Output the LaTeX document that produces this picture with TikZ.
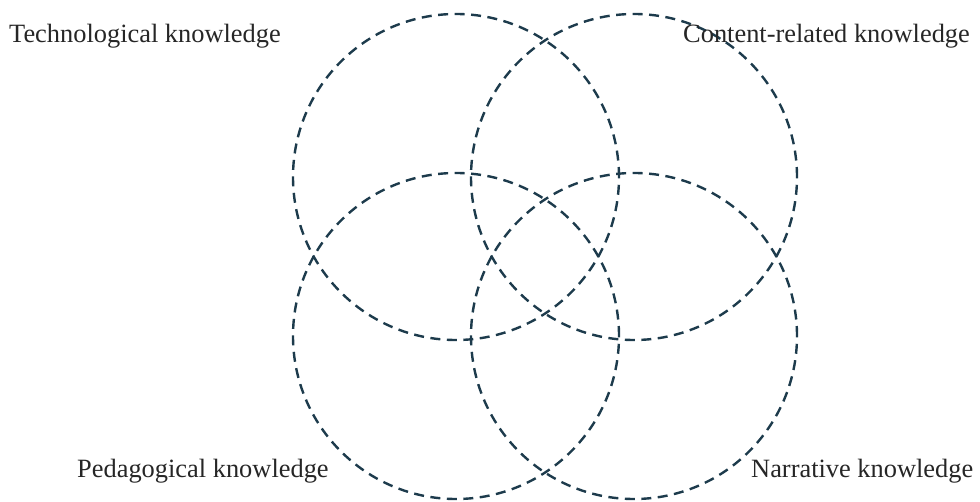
\documentclass[tikz,border=0pt]{standalone}
\usepackage{fontspec}
\setmainfont{Liberation Serif}
\definecolor{ringcol}{HTML}{1D3B4C}
\begin{document}
\begin{tikzpicture}[x=1pt,y=-1pt,
  ring/.style={circle,draw=ringcol,line width=2.4pt,dash pattern=on 10pt off 6.5pt,minimum size=326pt,inner sep=0pt},
  lbl/.style={anchor=base west,inner sep=0pt,font=\fontsize{26.4pt}{30pt}\selectfont,text=black!85}]
\useasboundingbox (0,0) rectangle (980,502);
\node[ring] (tech) at (456,177) {};
\node[ring] (cont) at (634,177) {};
\node[ring] (peda) at (456,336) {};
\node[ring] (narr) at (634,336) {};
\node[lbl] (ltech) at (9,43) {Technological knowledge};
\node[lbl] (lcont) at (683,43) {Content-related knowledge};
\node[lbl] (lpeda) at (77,477) {Pedagogical knowledge};
\node[lbl] (lnarr) at (751,477) {Narrative knowledge};
\end{tikzpicture}
\end{document}
